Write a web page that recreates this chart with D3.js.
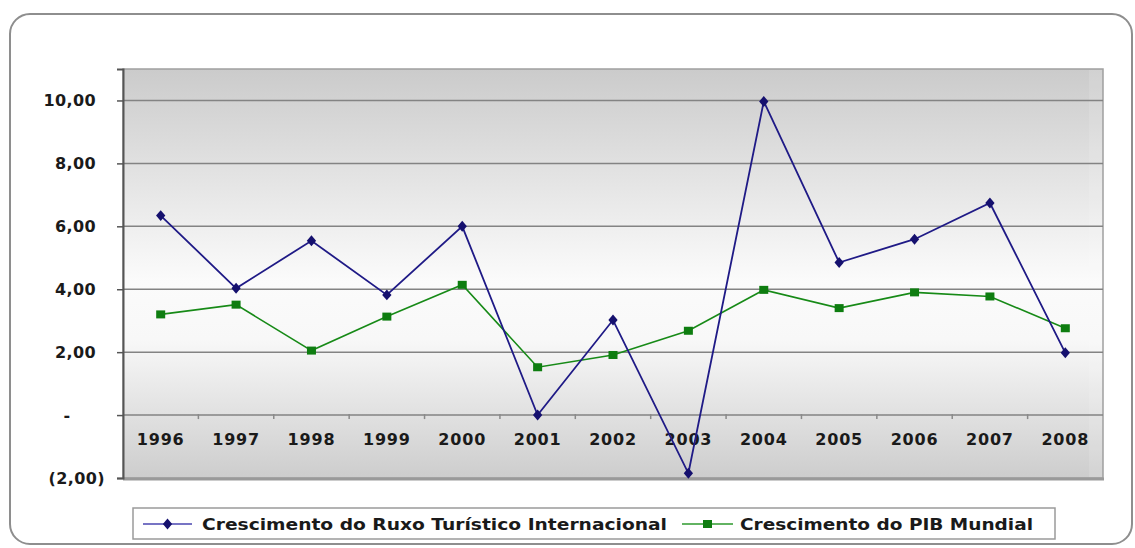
<!DOCTYPE html>
<html>
<head>
<meta charset="utf-8">
<script src="https://cdn.jsdelivr.net/npm/d3@7"></script>
<style>
  html, body { margin: 0; padding: 0; background: #ffffff; }
  svg { display: block; }
  text { font-family: "DejaVu Sans", Verdana, sans-serif; font-weight: bold; fill: #1a1a1a; }
</style>
</head>
<body>
<svg id="chart" width="1135" height="548"></svg>
<script>
// Years on the category axis
const years = ["1996","1997","1998","1999","2000","2001","2002","2003","2004","2005","2006","2007","2008"];
// Growth of international tourist flow (%)
const fluxo = [6.34, 4.03, 5.54, 3.82, 6.00, 0.00, 3.02, -1.85, 9.97, 4.85, 5.59, 6.74, 1.98];
// Growth of world GDP (%)
const pib = [3.20, 3.51, 2.05, 3.13, 4.14, 1.52, 1.91, 2.68, 3.98, 3.40, 3.90, 3.77, 2.76];
// Value-axis ticks
const yTicks = [-2, 0, 2, 4, 6, 8, 10];
// Legend entries
const seriesNames = ["Crescimento do Ruxo Turístico Internacional", "Crescimento do PIB Mundial"];

const svg = d3.select("#chart");
const plot = { left: 123, top: 69, right: 1103, bottom: 478 };

const x = d3.scaleBand().domain(years).range([plot.left, plot.right]).padding(0);
const y = d3.scaleLinear().domain([-2, 11]).range([plot.bottom, plot.top]);

const defs = svg.append("defs");
const grad = defs.append("linearGradient").attr("id", "plotBg")
  .attr("x1", 0).attr("y1", 0).attr("x2", 0).attr("y2", 1);
grad.append("stop").attr("offset", "0%").attr("stop-color", "#cbcbcb");
grad.append("stop").attr("offset", "52%").attr("stop-color", "#fbfbfb");
grad.append("stop").attr("offset", "66%").attr("stop-color", "#f8f8f8");
grad.append("stop").attr("offset", "100%").attr("stop-color", "#cdcdcd");

// Outer rounded frame
svg.append("rect")
  .attr("x", 10).attr("y", 14).attr("width", 1122).attr("height", 530)
  .attr("rx", 20).attr("ry", 20)
  .attr("fill", "#ffffff").attr("stroke", "#8e8e8e").attr("stroke-width", 2);

// Plot area
svg.append("rect")
  .attr("x", plot.left).attr("y", plot.top)
  .attr("width", plot.right - plot.left).attr("height", plot.bottom - plot.top)
  .attr("fill", "url(#plotBg)").attr("stroke", "#a0a0a0").attr("stroke-width", 1.5);
// soft highlight along the right edge and shadow along the bottom
svg.append("rect")
  .attr("x", plot.right - 14).attr("y", plot.top + 1)
  .attr("width", 13).attr("height", plot.bottom - plot.top - 2)
  .attr("fill", "#ffffff").attr("opacity", 0.12);
svg.append("line")
  .attr("x1", plot.left).attr("x2", plot.right + 1)
  .attr("y1", plot.bottom + 1).attr("y2", plot.bottom + 1)
  .attr("stroke", "#9a9a9a").attr("stroke-width", 3);

// Gridlines
svg.append("g").selectAll("line")
  .data(yTicks.filter(d => d > -2))
  .join("line")
  .attr("x1", plot.left).attr("x2", plot.right)
  .attr("y1", d => y(d)).attr("y2", d => y(d))
  .attr("stroke", "#838383").attr("stroke-width", 1.5);

// Value axis
const yAxis = d3.axisLeft(y).tickValues(yTicks).tickSize(6).tickFormat("");
const gy = svg.append("g").attr("transform", `translate(${plot.left},0)`).call(yAxis);
gy.select(".domain").attr("stroke", "#555555").attr("stroke-width", 2);
gy.selectAll(".tick line").attr("stroke", "#555555").attr("stroke-width", 1.5);

const fmt = v => {
  if (v === 0) return "-";
  const s = Math.abs(v).toFixed(2).replace(".", ",");
  return v < 0 ? "(" + s + ")" : s;
};
svg.append("g").selectAll("text")
  .data(yTicks)
  .join("text")
  .attr("x", d => d < 0 ? 105 : (d === 0 ? 67 : 96))
  .attr("y", d => y(d))
  .attr("dy", "0.36em")
  .attr("text-anchor", d => d === 0 ? "middle" : "end")
  .attr("font-size", 16)
  .attr("letter-spacing", 0.4)
  .text(fmt);

// Category axis along the zero line
const xAxis = d3.axisBottom(x).tickSize(0).tickFormat("");
const gx = svg.append("g").attr("transform", `translate(0,${y(0)})`).call(xAxis);
gx.select(".domain").remove();
svg.append("g").selectAll("line")
  .data(years.slice(1))
  .join("line")
  .attr("x1", d => x(d)).attr("x2", d => x(d))
  .attr("y1", y(0) - 1).attr("y2", y(0) + 4)
  .attr("stroke", "#8a8a8a").attr("stroke-width", 1.5);
svg.append("g").selectAll("text")
  .data(years)
  .join("text")
  .attr("x", d => x(d) + x.bandwidth() / 2)
  .attr("y", y(0) + 24)
  .attr("dy", "0.36em")
  .attr("text-anchor", "middle")
  .attr("font-size", 16)
  .attr("letter-spacing", 0.8)
  .text(d => d);

const cx = d => x(d) + x.bandwidth() / 2;
const lineGen = d3.line().x(d => cx(d.year)).y(d => y(d.v));

const blue = "#1f1a86";
const green = "#178a17";

const pibData = years.map((yr, i) => ({ year: yr, v: pib[i] }));
const fluxoData = years.map((yr, i) => ({ year: yr, v: fluxo[i] }));

// GDP series
svg.append("path").datum(pibData)
  .attr("d", lineGen).attr("fill", "none")
  .attr("stroke", green).attr("stroke-width", 1.6);
svg.append("g").selectAll("rect")
  .data(pibData).join("rect")
  .attr("x", d => cx(d.year) - 4.5).attr("y", d => y(d.v) - 4)
  .attr("width", 9).attr("height", 8)
  .attr("fill", "#0e7d10");

// Tourist-flow series
svg.append("path").datum(fluxoData)
  .attr("d", lineGen).attr("fill", "none")
  .attr("stroke", blue).attr("stroke-width", 1.8);
const diamond = d3.symbol().type(d3.symbolDiamond).size(48);
svg.append("g").selectAll("path")
  .data(fluxoData).join("path")
  .attr("d", diamond)
  .attr("transform", d => `translate(${cx(d.year)},${y(d.v)}) scale(1.25,0.85)`)
  .attr("fill", "#15106e");

// Legend
const lg = svg.append("g");
lg.append("rect")
  .attr("x", 133).attr("y", 508).attr("width", 922).attr("height", 31)
  .attr("fill", "#ffffff").attr("stroke", "#9a9a9a").attr("stroke-width", 1.5);

const legendItems = [
  { name: seriesNames[0], color: "#4a46b0", mark: "diamond", x0: 143, x1: 192, tx: 202, tw: 465 },
  { name: seriesNames[1], color: "#2e9a2e", mark: "square", x0: 682, x1: 733, tx: 740, tw: 293 }
];
legendItems.forEach(it => {
  const my = 524;
  lg.append("line").attr("x1", it.x0).attr("x2", it.x1).attr("y1", my).attr("y2", my)
    .attr("stroke", it.color).attr("stroke-width", 1.5);
  const mx = (it.x0 + it.x1) / 2;
  if (it.mark === "diamond") {
    lg.append("path").attr("d", diamond)
      .attr("transform", `translate(${mx},${my}) scale(1.25,0.85)`).attr("fill", "#15106e");
  } else {
    lg.append("rect").attr("x", mx - 4.5).attr("y", my - 4).attr("width", 9).attr("height", 8)
      .attr("fill", "#0e7d10");
  }
  lg.append("text").attr("x", it.tx).attr("y", my).attr("dy", "0.36em")
    .attr("font-size", 16)
    .attr("textLength", it.tw).attr("lengthAdjust", "spacingAndGlyphs")
    .text(it.name);
});
</script>
</body>
</html>
